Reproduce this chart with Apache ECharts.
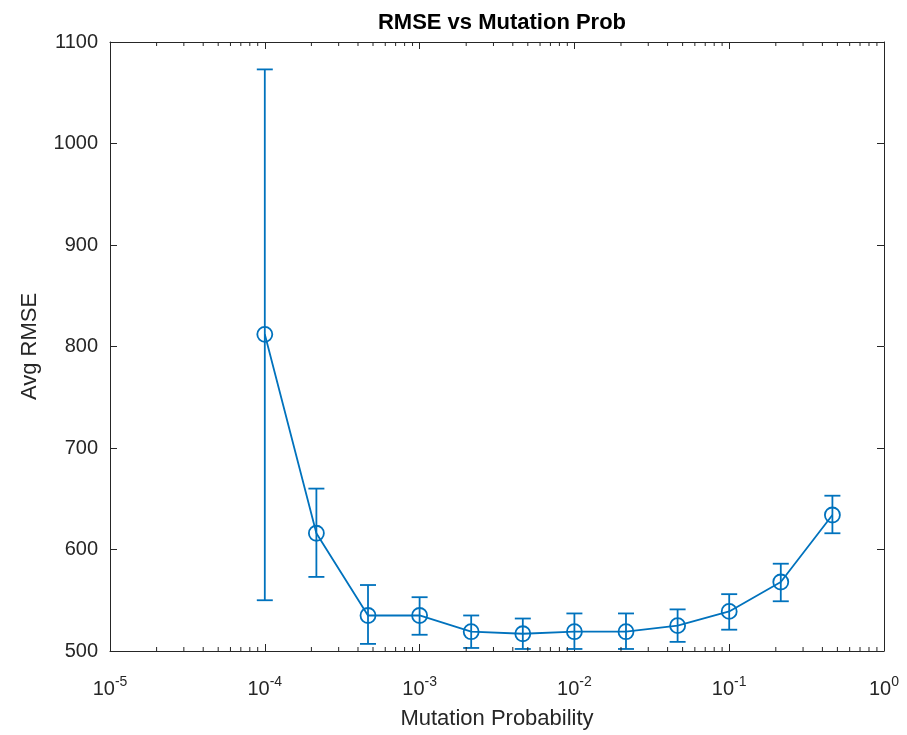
<!DOCTYPE html>
<html>
<head>
<meta charset="utf-8">
<script src="https://cdn.jsdelivr.net/npm/echarts@6/dist/echarts.min.js"></script>
<style>
  html, body { margin: 0; padding: 0; background: #fff; }
  #chart { width: 907px; height: 735px; }
</style>
</head>
<body>
<div id="chart"></div>
<script>
// data
const mutationProb = [1e-4, 2.154e-4, 4.642e-4, 1e-3, 2.154e-3, 4.642e-3, 1e-2, 2.154e-2, 4.642e-2, 1e-1, 2.154e-1, 4.642e-1]
const avgRmse = [812, 616, 535, 535, 519, 517, 519, 519, 525, 539, 568, 634]
const rmseLow = [550, 573, 507, 516, 503, 502, 502, 502, 509, 521, 549, 616]
const rmseHigh = [1073, 660, 565, 553, 535, 532, 537, 537, 541, 556, 586, 653]

const yTicks = [500, 600, 700, 800, 900, 1000, 1100]
const xDecades = [-5, -4, -3, -2, -1, 0]
const minorMult = [2, 3, 4, 5, 6, 7, 8, 9]

const blue = '#0072BD'
const ink = '#262626'
const font = 'Helvetica, Arial, "Liberation Sans", sans-serif'

const minorTicks = []
xDecades.slice(0, -1).forEach(d => minorMult.forEach(m => minorTicks.push(m * Math.pow(10, d))))

const chart = echarts.init(document.getElementById('chart'), null, { renderer: 'canvas' })

const axisCommon = {
  axisLine: { show: true, onZero: false, lineStyle: { color: ink, width: 1 } },
  axisTick: { show: true, inside: true, length: 7, lineStyle: { color: ink, width: 1 } },
  splitLine: { show: false }
}

chart.setOption({
  animation: false,
  backgroundColor: '#fff',
  title: {
    text: 'RMSE vs Mutation Prob',
    left: 497, top: 7, textAlign: 'center',
    textStyle: { fontFamily: font, fontSize: 22, fontWeight: 'bold', color: '#000' }
  },
  grid: { left: 110, top: 42, width: 774, height: 611, containLabel: false },
  xAxis: [
    {
      ...axisCommon,
      type: 'log', logBase: 10, min: 1e-5, max: 1, position: 'bottom',
      name: 'Mutation Probability', nameLocation: 'middle', nameGap: 57,
      nameTextStyle: { fontFamily: font, fontSize: 22, color: ink },
      axisLabel: {
        margin: 24,
        formatter: v => '{b|10}{s|' + Math.round(Math.log10(v)) + '}',
        rich: {
          b: { fontFamily: font, fontSize: 20, color: ink },
          s: { fontFamily: font, fontSize: 14, color: ink, padding: [0, 0, 14, 0] }
        }
      }
    },
    {
      ...axisCommon,
      type: 'log', logBase: 10, min: 1e-5, max: 1, position: 'top',
      axisLabel: { show: false }
    }
  ],
  yAxis: [
    {
      ...axisCommon,
      type: 'value', min: yTicks[0], max: yTicks[yTicks.length - 1], interval: 100, position: 'left',
      name: 'Avg RMSE', nameLocation: 'middle', nameGap: 69, nameRotate: 90,
      nameTextStyle: { fontFamily: font, fontSize: 22, color: ink },
      axisLabel: { margin: 12, fontFamily: font, fontSize: 20, color: ink, formatter: v => String(v) }
    },
    {
      ...axisCommon,
      type: 'value', min: yTicks[0], max: yTicks[yTicks.length - 1], interval: 100, position: 'right',
      axisLabel: { show: false }
    }
  ],
  series: [
    {
      type: 'custom',
      name: 'minor',
      silent: true,
      clip: false,
      z: 20,
      data: minorTicks.map(v => [v]),
      renderItem: (params, api) => {
        const v = api.value(0)
        const b = api.coord([v, yTicks[0]])
        const t = api.coord([v, yTicks[yTicks.length - 1]])
        const st = { stroke: ink, lineWidth: 1 }
        return {
          type: 'group',
          children: [
            { type: 'line', shape: { x1: b[0], y1: b[1], x2: b[0], y2: b[1] - 4 }, style: st },
            { type: 'line', shape: { x1: t[0], y1: t[1], x2: t[0], y2: t[1] + 4 }, style: st }
          ]
        }
      }
    },
    {
      type: 'custom',
      name: 'error',
      silent: true,
      clip: true,
      z: 5,
      data: mutationProb.map((p, i) => [p, rmseLow[i], rmseHigh[i]]),
      renderItem: (params, api) => {
        const lo = api.coord([api.value(0), api.value(1)])
        const hi = api.coord([api.value(0), api.value(2)])
        const w = 8
        const st = { stroke: blue, lineWidth: 1.8 }
        return {
          type: 'group',
          children: [
            { type: 'line', shape: { x1: lo[0], y1: lo[1], x2: hi[0], y2: hi[1] }, style: st },
            { type: 'line', shape: { x1: hi[0] - w, y1: hi[1], x2: hi[0] + w, y2: hi[1] }, style: st },
            { type: 'line', shape: { x1: lo[0] - w, y1: lo[1], x2: lo[0] + w, y2: lo[1] }, style: st }
          ]
        }
      }
    },
    {
      type: 'line',
      name: 'Avg RMSE',
      data: mutationProb.map((p, i) => [p, avgRmse[i]]),
      symbol: 'circle',
      symbolSize: 15,
      z: 6,
      lineStyle: { color: blue, width: 1.8 },
      itemStyle: { color: 'rgba(0,0,0,0)', borderColor: blue, borderWidth: 1.8 },
      emphasis: { disabled: true }
    }
  ]
})
</script>
</body>
</html>
